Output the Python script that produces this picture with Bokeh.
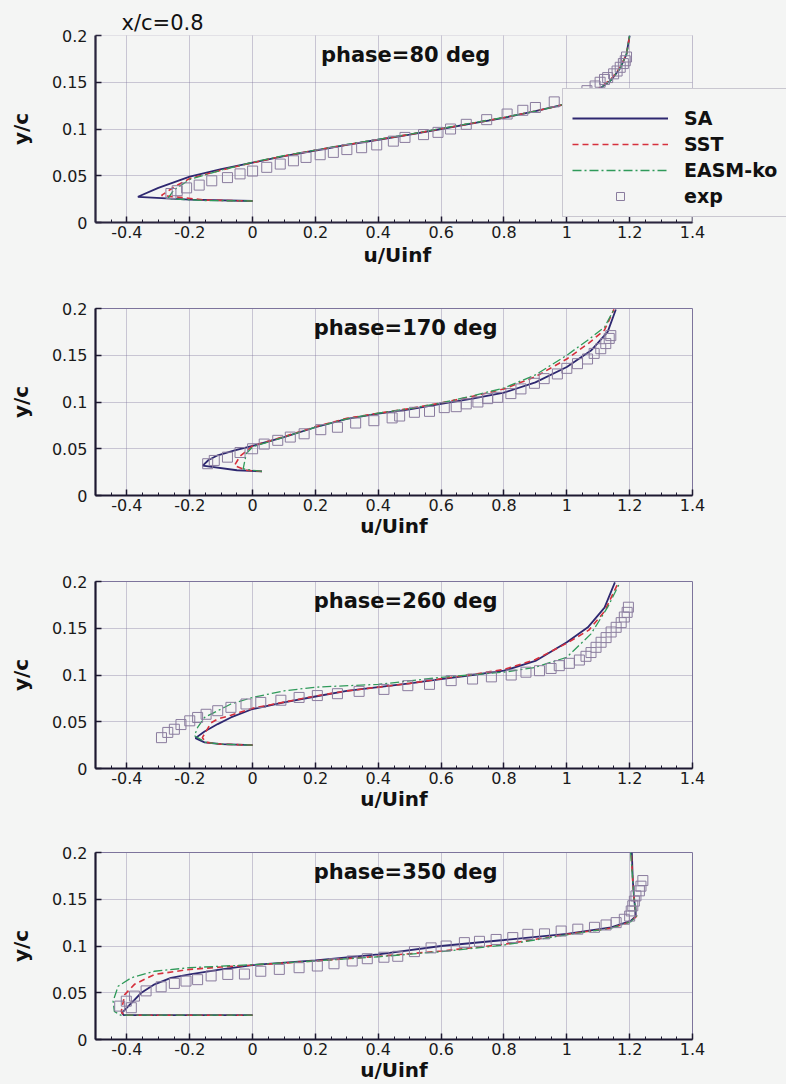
from bokeh.plotting import figure
from bokeh.layouts import column
from bokeh.models import Range1d, FixedTicker, Label, Legend, LegendItem, BoxAnnotation, Title
from bokeh.embed import file_html
from bokeh.resources import INLINE

# ---------------- data ----------------
x_ticks = [-0.4, -0.2, 0, 0.2, 0.4, 0.6, 0.8, 1, 1.2, 1.4]
x_tick_labels = ["-0.4", "-0.2", "0", "0.2", "0.4", "0.6", "0.8", "1", "1.2", "1.4"]
y_ticks = [0, 0.05, 0.1, 0.15, 0.2]
y_tick_labels = ["0", "0.05", "0.1", "0.15", "0.2"]
series_names = ["SA", "SST", "EASM-ko", "exp"]
phases = ["phase=80 deg", "phase=170 deg", "phase=260 deg", "phase=350 deg"]

# phase = 80 deg
p80_sa_u = [0.0, -0.20, -0.365, -0.30, -0.20, -0.10, 0.0, 0.1, 0.2, 0.3, 0.4, 0.5, 0.6, 0.7, 0.8, 0.9, 1.0, 1.05, 1.1, 1.14, 1.17, 1.19, 1.2]
p80_sa_y = [0.023, 0.0245, 0.0275, 0.037, 0.049, 0.057, 0.064, 0.071, 0.077, 0.083, 0.0885, 0.094, 0.1, 0.106, 0.112, 0.119, 0.127, 0.133, 0.142, 0.152, 0.165, 0.18, 0.2]
p80_sst_u = [0.0, -0.15, -0.29, -0.25, -0.2, -0.1, 0.0, 0.1, 0.2, 0.3, 0.4, 0.5, 0.6, 0.7, 0.8, 0.9, 1.0, 1.05, 1.1, 1.14, 1.17, 1.19, 1.2]
p80_sst_y = [0.023, 0.024, 0.029, 0.038, 0.047, 0.056, 0.064, 0.0712, 0.0772, 0.0832, 0.0887, 0.0942, 0.1002, 0.1062, 0.1122, 0.119, 0.127, 0.134, 0.143, 0.153, 0.166, 0.18, 0.2]
p80_easm_u = [0.0, -0.15, -0.27, -0.25, -0.2, -0.1, 0.0, 0.1, 0.2, 0.3, 0.4, 0.5, 0.6, 0.7, 0.8, 0.9, 1.0, 1.05, 1.1, 1.14, 1.17, 1.19, 1.2]
p80_easm_y = [0.023, 0.0235, 0.0255, 0.035, 0.046, 0.056, 0.0645, 0.0715, 0.0775, 0.0835, 0.089, 0.0945, 0.1005, 0.1065, 0.1125, 0.119, 0.127, 0.133, 0.142, 0.152, 0.165, 0.18, 0.2]
p80_exp_u = [-0.26, -0.24, -0.21, -0.17, -0.13, -0.08, -0.04, 0.0, 0.045, 0.088, 0.13, 0.17, 0.215, 0.257, 0.30, 0.347, 0.395, 0.448, 0.485, 0.544, 0.59, 0.63, 0.68, 0.745, 0.81, 0.86, 0.90, 0.96, 1.01, 1.064, 1.09, 1.106, 1.12, 1.13, 1.149, 1.16, 1.17, 1.18, 1.186, 1.19]
p80_exp_y = [0.031, 0.034, 0.037, 0.040, 0.0446, 0.048, 0.052, 0.055, 0.059, 0.0625, 0.066, 0.0696, 0.0725, 0.075, 0.078, 0.080, 0.083, 0.087, 0.091, 0.094, 0.0964, 0.100, 0.105, 0.110, 0.116, 0.120, 0.123, 0.129, 0.134, 0.141, 0.146, 0.150, 0.153, 0.155, 0.159, 0.162, 0.166, 0.170, 0.173, 0.177]

# phase = 170 deg
p170_sa_u = [0.03, -0.05, -0.159, -0.14, -0.111, -0.06, 0.0, 0.1, 0.2, 0.3, 0.4, 0.5, 0.6, 0.7, 0.8, 0.9, 1.0, 1.077, 1.13, 1.156]
p170_sa_y = [0.0257, 0.027, 0.032, 0.038, 0.043, 0.048, 0.053, 0.0625, 0.073, 0.082, 0.0875, 0.092, 0.098, 0.1036, 0.11, 0.121, 0.1375, 0.155, 0.175, 0.199]
p170_sst_u = [0.03, -0.02, -0.058, -0.04, 0.0, 0.1, 0.2, 0.3, 0.4, 0.5, 0.6, 0.7, 0.8, 0.9, 1.0, 1.07, 1.12, 1.15]
p170_sst_y = [0.0257, 0.027, 0.032, 0.042, 0.053, 0.063, 0.0735, 0.0825, 0.088, 0.093, 0.099, 0.106, 0.114, 0.127, 0.146, 0.163, 0.177, 0.199]
p170_easm_u = [0.03, 0.0, -0.03, -0.02, 0.0, 0.1, 0.2, 0.3, 0.4, 0.5, 0.6, 0.7, 0.8, 0.9, 1.0, 1.07, 1.12, 1.15]
p170_easm_y = [0.0257, 0.027, 0.0286, 0.045, 0.052, 0.0625, 0.073, 0.082, 0.088, 0.093, 0.099, 0.1065, 0.115, 0.129, 0.15, 0.167, 0.18, 0.199]
p170_exp_u = [-0.143, -0.122, -0.08, -0.04, 0.0, 0.037, 0.08, 0.12, 0.164, 0.217, 0.27, 0.328, 0.386, 0.444, 0.468, 0.515, 0.563, 0.61, 0.648, 0.68, 0.717, 0.748, 0.78, 0.822, 0.854, 0.897, 0.928, 0.97, 1.0, 1.034, 1.066, 1.087, 1.108, 1.124, 1.135, 1.14]
p170_exp_y = [0.034, 0.0375, 0.041, 0.046, 0.05, 0.055, 0.059, 0.0625, 0.066, 0.0704, 0.073, 0.0775, 0.080, 0.083, 0.085, 0.089, 0.090, 0.094, 0.095, 0.098, 0.100, 0.1036, 0.105, 0.109, 0.114, 0.12, 0.125, 0.13, 0.136, 0.141, 0.146, 0.152, 0.157, 0.1625, 0.168, 0.171]

# phase = 260 deg
p260_sa_u = [0.0, -0.1, -0.153, -0.182, -0.153, -0.111, -0.069, 0.0, 0.1, 0.2, 0.3, 0.4, 0.5, 0.6, 0.7, 0.8, 0.9, 1.0, 1.067, 1.12, 1.153]
p260_sa_y = [0.025, 0.026, 0.028, 0.0325, 0.0396, 0.0475, 0.0546, 0.0636, 0.0707, 0.077, 0.083, 0.087, 0.091, 0.0957, 0.100, 0.1046, 0.115, 0.135, 0.151, 0.172, 0.199]
p260_sst_u = [0.0, -0.1, -0.148, -0.16, -0.132, -0.11, -0.069, 0.0, 0.1, 0.2, 0.3, 0.4, 0.5, 0.6, 0.7, 0.8, 0.9, 1.0, 1.07, 1.12, 1.162]
p260_sst_y = [0.025, 0.026, 0.028, 0.033, 0.049, 0.053, 0.057, 0.0645, 0.071, 0.0775, 0.083, 0.087, 0.091, 0.096, 0.1005, 0.106, 0.1165, 0.134, 0.148, 0.168, 0.1975]
p260_easm_u = [0.0, -0.1, -0.15, -0.185, -0.175, -0.153, -0.069, 0.0, 0.1, 0.2, 0.4, 0.6, 0.8, 0.897, 1.0, 1.077, 1.13, 1.167]
p260_easm_y = [0.025, 0.026, 0.028, 0.035, 0.044, 0.0546, 0.069, 0.076, 0.083, 0.087, 0.090, 0.0975, 0.103, 0.108, 0.119, 0.144, 0.1725, 0.1975]
p260_exp_u = [-0.29, -0.27, -0.249, -0.228, -0.2, -0.175, -0.148, -0.111, -0.069, -0.021, 0.026, 0.09, 0.148, 0.206, 0.27, 0.339, 0.418, 0.494, 0.563, 0.632, 0.7, 0.76, 0.823, 0.87, 0.913, 0.95, 0.976, 1.008, 1.04, 1.061, 1.077, 1.093, 1.109, 1.125, 1.141, 1.157, 1.173, 1.183, 1.192, 1.196]
p260_exp_y = [0.033, 0.0386, 0.042, 0.047, 0.051, 0.0546, 0.058, 0.0618, 0.0654, 0.069, 0.0707, 0.073, 0.076, 0.078, 0.080, 0.0825, 0.0846, 0.0886, 0.090, 0.094, 0.0957, 0.098, 0.100, 0.103, 0.1046, 0.107, 0.11, 0.1125, 0.116, 0.12, 0.124, 0.1296, 0.135, 0.14, 0.146, 0.151, 0.156, 0.162, 0.167, 0.1725]

# phase = 350 deg
p350_sa_u = [0.0, -0.2, -0.41, -0.416, -0.386, -0.354, -0.312, -0.26, -0.2, -0.1, 0.0, 0.2, 0.4, 0.6, 0.8, 1.0, 1.141, 1.204, 1.22, 1.215, 1.21, 1.207]
p350_sa_y = [0.026, 0.026, 0.026, 0.0286, 0.039, 0.05, 0.059, 0.066, 0.0696, 0.075, 0.0796, 0.0846, 0.091, 0.1, 0.1064, 0.113, 0.12, 0.127, 0.132, 0.148, 0.17, 0.2]
p350_sst_u = [0.0, -0.2, -0.41, -0.418, -0.407, -0.376, -0.312, -0.2, -0.1, 0.0, 0.2, 0.4, 0.6, 0.8, 1.0, 1.141, 1.204, 1.222, 1.215, 1.21, 1.205]
p350_sst_y = [0.026, 0.026, 0.026, 0.03, 0.048, 0.059, 0.0696, 0.075, 0.0775, 0.0796, 0.084, 0.089, 0.0946, 0.1018, 0.1125, 0.119, 0.126, 0.132, 0.148, 0.17, 0.2]
p350_easm_u = [0.0, -0.2, -0.42, -0.44, -0.444, -0.428, -0.386, -0.312, -0.2, 0.0, 0.2, 0.4, 0.6, 0.8, 1.0, 1.141, 1.204, 1.222, 1.215, 1.21, 1.203]
p350_easm_y = [0.026, 0.026, 0.026, 0.03, 0.041, 0.057, 0.066, 0.073, 0.0768, 0.08, 0.084, 0.0885, 0.094, 0.101, 0.112, 0.119, 0.126, 0.132, 0.148, 0.17, 0.2]
p350_exp_u = [-0.423, -0.402, -0.386, -0.376, -0.339, -0.291, -0.249, -0.212, -0.175, -0.132, -0.079, -0.026, 0.026, 0.085, 0.148, 0.206, 0.259, 0.317, 0.365, 0.418, 0.462, 0.515, 0.568, 0.616, 0.674, 0.722, 0.775, 0.828, 0.876, 0.929, 0.982, 1.035, 1.088, 1.125, 1.157, 1.183, 1.2, 1.205, 1.21, 1.215, 1.22, 1.231, 1.236, 1.242]
p350_exp_y = [0.0357, 0.041, 0.034, 0.0464, 0.052, 0.0564, 0.06, 0.0625, 0.064, 0.068, 0.0696, 0.070, 0.073, 0.075, 0.0768, 0.0786, 0.081, 0.084, 0.0864, 0.088, 0.089, 0.094, 0.098, 0.100, 0.1036, 0.105, 0.107, 0.109, 0.1125, 0.113, 0.116, 0.118, 0.120, 0.1225, 0.125, 0.1286, 0.132, 0.1375, 0.143, 0.148, 0.1536, 0.159, 0.164, 0.17]

# ---------------- style ----------------
BG = "#f4f5f4"
GRID = "#7d749c"
AXIS = "#1c1830"
SA_C = "#2e2870"
SST_C = "#d6303c"
EASM_C = "#2f9a5a"
EXP_C = "#8a7c9e"
FONT = "DejaVu Sans"

W = 786
LEFT = 95
FW = 597
FH = 187
X0, X1 = -0.5, 1.4
bottoms = [51, 51, 49, 40]


def style_axis(ax):
    ax.axis_line_color = AXIS
    ax.axis_line_width = 2.2
    ax.major_tick_line_color = AXIS
    ax.major_tick_line_width = 1.5
    ax.major_tick_in = 6
    ax.major_tick_out = 0
    ax.minor_tick_line_color = AXIS
    ax.major_label_text_font = FONT
    ax.major_label_text_font_size = "16px"
    ax.major_label_text_color = "#1a1a1a"
    ax.axis_label_text_font = FONT
    ax.axis_label_text_font_style = "bold"
    ax.axis_label_text_font_size = "20px"
    ax.axis_label_text_color = "#111111"


def make_panel(i, sa_u, sa_y, sst_u, sst_y, easm_u, easm_y, exp_u, exp_y, first=False):
    fw = W - LEFT if first else FW
    x_end = X0 + fw * (X1 - X0) / FW
    p = figure(frame_width=fw, frame_height=FH, output_backend="svg", toolbar_location=None,
               x_range=Range1d(X0, x_end), y_range=Range1d(0, 0.2),
               min_border_left=LEFT, min_border_right=W - LEFT - fw,
               min_border_top=35, min_border_bottom=bottoms[i])
    p.background_fill_color = BG
    p.border_fill_color = BG

    p.xaxis.ticker = FixedTicker(ticks=x_ticks, minor_ticks=[-0.45 + 0.05 * k for k in range(37)])
    p.yaxis.ticker = FixedTicker(ticks=y_ticks)
    p.xaxis.major_label_overrides = {t: s for t, s in zip(x_ticks, x_tick_labels)}
    p.yaxis.major_label_overrides = {t: s for t, s in zip(y_ticks, y_tick_labels)}
    style_axis(p.xaxis[0])
    style_axis(p.yaxis[0])
    p.xaxis.bounds = (X0, X1)
    p.xaxis.minor_tick_in = 3
    p.xaxis.minor_tick_out = 0
    p.yaxis.minor_tick_in = 0
    p.yaxis.minor_tick_out = 0
    p.yaxis.axis_label = "y/c"
    p.xaxis.major_label_standoff = 3
    p.xaxis.axis_label_standoff = 0
    p.yaxis.major_label_standoff = 8
    p.yaxis.axis_label_standoff = 16

    p.grid.grid_line_color = GRID
    p.grid.grid_line_alpha = 0.75
    p.grid.grid_line_dash = "1 1"
    p.grid.grid_line_width = 1

    r_sa = p.line(sa_u, sa_y, line_color=SA_C, line_width=1.8)
    r_sst = p.line(sst_u, sst_y, line_color=SST_C, line_width=1.6, line_dash="6 4")
    r_easm = p.line(easm_u, easm_y, line_color=EASM_C, line_width=1.3, line_dash="9 3 2 3")
    r_exp = p.scatter(exp_u, exp_y, marker="square", size=10, fill_color=None,
                      line_color=EXP_C, line_width=1)

    p.add_layout(Label(x=0.487, y=0.192, text=phases[i], text_align="center",
                       text_baseline="top", text_font=FONT, text_font_style="bold",
                       text_font_size="21px", text_color="#111111"))

    if not first:
        p.outline_line_color = GRID
        p.outline_line_width = 1
        p.xaxis.axis_label = "u/Uinf"
    else:
        # plot area ends at x = 1.4; the extra strip only hosts the legend
        p.outline_line_color = None
        p.add_layout(BoxAnnotation(left=X1, fill_color=BG, fill_alpha=1, line_color=None))
        p.add_layout(BoxAnnotation(left=X0, right=X1, bottom=0, top=0.2, fill_alpha=0,
                                   line_color=GRID, line_width=1))
        p.add_layout(Title(text="u/Uinf", align="left", offset=268, standoff=0,
                           text_font=FONT, text_font_style="bold", text_font_size="20px",
                           text_color="#111111"), "below")
        p.add_layout(Title(text="x/c=0.8", align="left", offset=26, standoff=2,
                           text_font=FONT, text_font_style="normal", text_font_size="21px",
                           text_color="#111111"), "above")
        items = [LegendItem(label=n, renderers=[r]) for n, r in
                 zip(series_names, [r_sa, r_sst, r_easm, r_exp])]
        lg = Legend(items=items, location=(467, 5), orientation="vertical")
        lg.title = " "
        lg.title_text_font_size = "8px"
        lg.title_standoff = 0
        lg.label_text_font = FONT
        lg.label_text_font_style = "bold"
        lg.label_text_font_size = "19px"
        lg.label_text_color = "#111111"
        lg.glyph_width = 96
        lg.glyph_height = 20
        lg.label_height = 20
        lg.label_standoff = 16
        lg.spacing = 4
        lg.padding = 9
        lg.margin = 0
        lg.border_line_color = "#9d9aab"
        lg.border_line_width = 1
        lg.background_fill_color = BG
        lg.background_fill_alpha = 1
        p.add_layout(lg, "center")
    return p


p1 = make_panel(0, p80_sa_u, p80_sa_y, p80_sst_u, p80_sst_y, p80_easm_u, p80_easm_y, p80_exp_u, p80_exp_y, first=True)
p2 = make_panel(1, p170_sa_u, p170_sa_y, p170_sst_u, p170_sst_y, p170_easm_u, p170_easm_y, p170_exp_u, p170_exp_y)
p3 = make_panel(2, p260_sa_u, p260_sa_y, p260_sst_u, p260_sst_y, p260_easm_u, p260_easm_y, p260_exp_u, p260_exp_y)
p4 = make_panel(3, p350_sa_u, p350_sa_y, p350_sst_u, p350_sst_y, p350_easm_u, p350_easm_y, p350_exp_u, p350_exp_y)

layout = column(p1, p2, p3, p4, spacing=0)
layout.styles = {"background-color": BG}
open("out.html", "w").write(file_html(layout, INLINE))
